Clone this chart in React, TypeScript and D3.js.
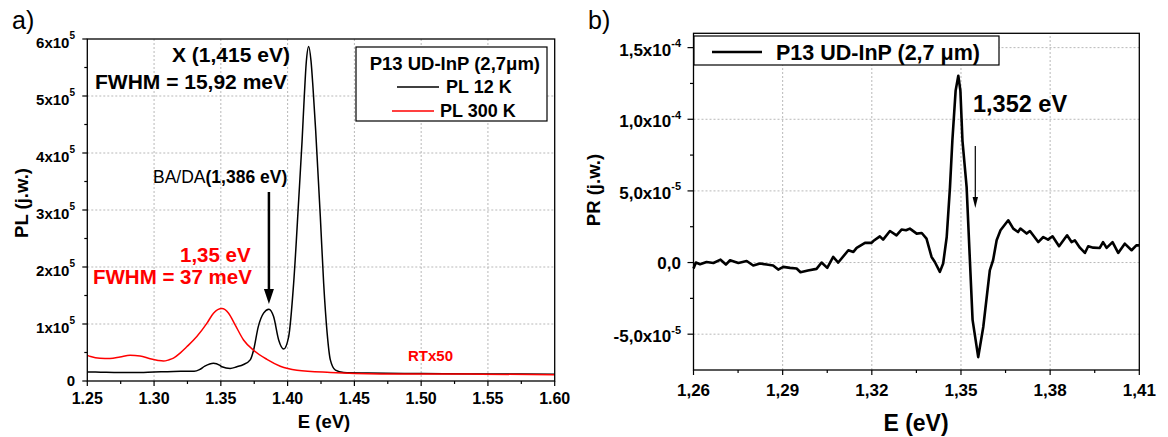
import React from 'react';
import * as d3 from 'd3';

const FONT = "'Liberation Sans', Arial, Helvetica, sans-serif";

// ---------- Panel a) PL spectra ----------
const pl12E = [1.25, 1.26, 1.27, 1.28, 1.29, 1.30, 1.31, 1.32, 1.33, 1.334, 1.338, 1.3445, 1.349, 1.3508, 1.357, 1.362, 1.367, 1.372, 1.3745, 1.378, 1.382, 1.386, 1.3895, 1.3933, 1.397, 1.4008, 1.4045, 1.4083, 1.4108, 1.4125, 1.414, 1.4158, 1.4175, 1.419, 1.421, 1.4225, 1.4245, 1.427, 1.4296, 1.432, 1.4358, 1.442, 1.46, 1.50, 1.55, 1.60];
const pl12V = [0.158, 0.155, 0.150, 0.148, 0.150, 0.160, 0.163, 0.170, 0.172, 0.20, 0.26, 0.31, 0.28, 0.25, 0.22, 0.25, 0.29, 0.37, 0.54, 0.95, 1.19, 1.26, 1.13, 0.72, 0.56, 0.78, 1.71, 3.18, 4.2, 5.0, 5.6, 5.87, 5.62, 5.15, 4.4, 3.75, 2.88, 1.71, 0.84, 0.37, 0.19, 0.15, 0.14, 0.13, 0.125, 0.12];
const pl300E = [1.25, 1.2525, 1.2595, 1.267, 1.2745, 1.282, 1.2895, 1.297, 1.303, 1.307, 1.311, 1.3145, 1.3195, 1.3245, 1.332, 1.3395, 1.3445, 1.3508, 1.3558, 1.3608, 1.367, 1.3745, 1.3845, 1.3945, 1.407, 1.432, 1.47, 1.545, 1.60];
const pl300V = [0.45, 0.43, 0.40, 0.395, 0.42, 0.45, 0.44, 0.39, 0.36, 0.35, 0.37, 0.40, 0.49, 0.60, 0.78, 1.01, 1.19, 1.27, 1.19, 0.98, 0.72, 0.54, 0.38, 0.26, 0.19, 0.15, 0.125, 0.12, 0.11];
const PL_UNIT = 1e5;
const aXTicks = [1.25, 1.30, 1.35, 1.40, 1.45, 1.50, 1.55, 1.60];
const aYTicks = [0, 1e5, 2e5, 3e5, 4e5, 5e5, 6e5];

// ---------- Panel b) PR spectrum ----------
const prE = [1.26, 1.2608, 1.2622, 1.2644, 1.2667, 1.2691, 1.2709, 1.2723, 1.2751, 1.2779, 1.2801, 1.2824, 1.2846, 1.2868, 1.2885, 1.2902, 1.2925, 1.2947, 1.296, 1.2985, 1.3014, 1.3031, 1.305, 1.307, 1.3087, 1.3121, 1.3138, 1.3149, 1.3177, 1.3199, 1.3205, 1.3227, 1.3238, 1.3261, 1.3283, 1.33, 1.3315, 1.3328, 1.3351, 1.3368, 1.3384, 1.3401, 1.3412, 1.3429, 1.344, 1.3452, 1.3463, 1.3471, 1.3482, 1.3491, 1.3498, 1.3505, 1.3519, 1.353, 1.3539, 1.3558, 1.3575, 1.3597, 1.3608, 1.362, 1.3633, 1.3659, 1.3676, 1.3692, 1.37, 1.3721, 1.3732, 1.376, 1.3777, 1.3793, 1.3808, 1.383, 1.3857, 1.3872, 1.3883, 1.39, 1.3917, 1.3928, 1.3945, 1.3967, 1.3978, 1.399, 1.401, 1.4029, 1.4051, 1.4074, 1.409, 1.41];
const prV = [-0.42, 0, -0.12, 0.04, -0.03, 0.2, -0.14, 0.16, -0.03, 0.11, -0.21, -0.07, -0.14, -0.21, -0.49, -0.3, -0.37, -0.42, -0.68, -0.55, -0.44, 0, -0.37, 0.39, 0, 0.86, 0.74, 1.02, 1.37, 1.37, 1.5, 1.83, 1.6, 2.2, 1.9, 2.3, 2.25, 2.37, 2.02, 2.06, 1.67, 0.39, 0.04, -0.65, -0.07, 1.78, 5.26, 8.5, 12.0, 13.04, 12.0, 8.5, 5.26, 0.16, -4.0, -6.6, -4.5, -0.54, 0.16, 1.55, 2.25, 2.95, 2.37, 2.13, 2.37, 2.02, 2.2, 1.43, 1.78, 1.6, 1.83, 1.14, 1.9, 1.43, 1.55, 1.04, 0.67, 1.14, 1.04, 1.02, 1.43, 1.02, 1.43, 0.67, 1.32, 0.86, 1.2, 1.2];
const PR_UNIT = 1e-5;
const bXTicks = [1.26, 1.29, 1.32, 1.35, 1.38, 1.41];
const bYTicks = [-5e-5, 0, 5e-5, 1e-4, 1.5e-4];

// ---------- scales ----------
const xA = d3.scaleLinear().domain([1.25, 1.6]).range([87.3, 554.7]);
const yA = d3.scaleLinear().domain([0, 6e5]).range([381, 39]);
const xB = d3.scaleLinear().domain([1.26, 1.41]).range([693.5, 1139.3]);
const yB = d3.scaleLinear().domain([-7.5e-5, 1.6e-4]).range([370, 33.3]);

const mid = (arr: number[]) => arr.slice(0, -1).map((v, i) => (v + arr[i + 1]) / 2);

function prLabel(v: number) {
  if (v === 0) return { main: '0,0', sup: '' };
  const exp = Math.floor(Math.log10(Math.abs(v)) + 1e-9);
  const m = v / Math.pow(10, exp);
  return { main: m.toFixed(1).replace('.', ',') + 'x10', sup: String(exp) };
}

export default function App() {
  const lineA = d3.line<[number, number]>().x(d => xA(d[0])).y(d => yA(d[1])).curve(d3.curveMonotoneX);
  const lineB = d3.line<[number, number]>().x(d => xB(d[0])).y(d => yB(d[1]));
  const pl12 = pl12E.map((e, i) => [e, pl12V[i] * PL_UNIT] as [number, number]);
  const pl300 = pl300E.map((e, i) => [e, pl300V[i] * PL_UNIT] as [number, number]);
  const pr = prE.map((e, i) => [e, prV[i] * PR_UNIT] as [number, number]);

  const grid = '#b8b8b8';
  const [ax0, ax1] = xA.range();
  const [ay0, ay1] = yA.range();
  const [bx0, bx1] = xB.range();
  const [by0, by1] = yB.range();

  return (
    <svg width={1168} height={437} style={{ position: 'absolute', left: 0, top: 0, background: '#fff' }} fontFamily={FONT}>
      <rect x={0} y={0} width={1168} height={437} fill="#fff" />
      {/* ============ Panel a ============ */}
      <text x={12} y={29} fontSize={25}>a)</text>
      {aXTicks.slice(1, -1).map(t => (
        <line key={'agx' + t} x1={xA(t)} x2={xA(t)} y1={ay0} y2={ay1} stroke={grid} strokeDasharray="2,2" strokeWidth={1} />
      ))}
      {aYTicks.slice(1, -1).map(t => (
        <line key={'agy' + t} x1={ax0} x2={ax1} y1={yA(t)} y2={yA(t)} stroke={grid} strokeDasharray="2,2" strokeWidth={1} />
      ))}
      <path d={lineA(pl12) || ''} fill="none" stroke="#000" strokeWidth={1.5} />
      <path d={lineA(pl300) || ''} fill="none" stroke="#ff0000" strokeWidth={1.5} />
      <rect x={ax0} y={ay1} width={ax1 - ax0} height={ay0 - ay1} fill="none" stroke="#000" strokeWidth={1.3} />
      {aXTicks.map(t => (
        <g key={'axt' + t}>
          <line x1={xA(t)} x2={xA(t)} y1={ay0} y2={ay0 + 5} stroke="#000" strokeWidth={1.2} />
          <text x={xA(t)} y={404} fontSize={16} fontWeight="bold" textAnchor="middle">{t.toFixed(2)}</text>
        </g>
      ))}
      {mid(aXTicks).map(t => (
        <line key={'axm' + t} x1={xA(t)} x2={xA(t)} y1={ay0} y2={ay0 + 3} stroke="#000" strokeWidth={1.2} />
      ))}
      {aYTicks.map(t => (
        <g key={'ayt' + t}>
          <line x1={ax0 - 5} x2={ax0} y1={yA(t)} y2={yA(t)} stroke="#000" strokeWidth={1.2} />
          {t === 0 ? (
            <text x={75} y={yA(t) + 5} fontSize={15} fontWeight="bold" textAnchor="end">0</text>
          ) : (
            <text x={75} y={yA(t) + 9} fontSize={15} fontWeight="bold" textAnchor="end">
              {`${t / PL_UNIT}x10`}
              <tspan dy={-9} fontSize={10}>5</tspan>
            </text>
          )}
        </g>
      ))}
      {mid(aYTicks).map(t => (
        <line key={'aym' + t} x1={ax0 - 3} x2={ax0} y1={yA(t)} y2={yA(t)} stroke="#000" strokeWidth={1.2} />
      ))}
      <text x={324} y={428} fontSize={18.5} fontWeight="bold" textAnchor="middle">E (eV)</text>
      <text transform="translate(28,203) rotate(-90)" fontSize={18.5} fontWeight="bold" textAnchor="middle">PL (j.w.)</text>
      {/* annotations */}
      <text x={172} y={62} fontSize={21} fontWeight="bold">X (1,415 eV)</text>
      <text x={95} y={89} fontSize={21} fontWeight="bold">FWHM = 15,92 meV</text>
      <text x={153} y={183} fontSize={17.5}>BA/DA<tspan fontWeight="bold">(1,386 eV)</tspan></text>
      <line x1={xA(1.386)} x2={xA(1.386)} y1={192} y2={292} stroke="#000" strokeWidth={2.5} />
      <path d={`M${xA(1.386) - 5},${289} L${xA(1.386) + 5},${289} L${xA(1.386)},${304} Z`} fill="#000" />
      <text x={180} y={262} fontSize={20.5} fontWeight="bold" fill="#ff0000">1,35 eV</text>
      <text x={93} y={284} fontSize={20.5} fontWeight="bold" fill="#ff0000">FWHM = 37 meV</text>
      <text x={408} y={361} fontSize={15} fontWeight="bold" fill="#ff0000">RTx50</text>
      {/* legend */}
      <rect x={356} y={47} width={191} height={74} fill="#fff" stroke="#000" strokeWidth={1.2} />
      <text x={540} y={70} fontSize={18.5} fontWeight="bold" textAnchor="end">P13 UD-InP (2,7μm)</text>
      <line x1={397} x2={439} y1={87} y2={87} stroke="#000" strokeWidth={1.3} />
      <text x={446} y={93} fontSize={18} fontWeight="bold">PL 12 K</text>
      <line x1={392} x2={434} y1={111} y2={111} stroke="#ff0000" strokeWidth={1.3} />
      <text x={440} y={117} fontSize={18} fontWeight="bold">PL 300 K</text>

      {/* ============ Panel b ============ */}
      <text x={588} y={29} fontSize={25}>b)</text>
      {bXTicks.slice(1, -1).map(t => (
        <line key={'bgx' + t} x1={xB(t)} x2={xB(t)} y1={by0} y2={by1} stroke={grid} strokeDasharray="2,2" strokeWidth={1} />
      ))}
      {bYTicks.map(t => (
        <line key={'bgy' + t} x1={bx0} x2={bx1} y1={yB(t)} y2={yB(t)} stroke={grid} strokeDasharray="2,2" strokeWidth={1} />
      ))}
      <path d={lineB(pr) || ''} fill="none" stroke="#000" strokeWidth={2.6} strokeLinejoin="round" />
      <rect x={bx0} y={by1} width={bx1 - bx0} height={by0 - by1} fill="none" stroke="#000" strokeWidth={1.3} />
      {bXTicks.map(t => (
        <g key={'bxt' + t}>
          <line x1={xB(t)} x2={xB(t)} y1={by0} y2={by0 + 5} stroke="#000" strokeWidth={1.2} />
          <text x={xB(t)} y={396} fontSize={17} fontWeight="bold" textAnchor="middle">{t.toFixed(2).replace('.', ',')}</text>
        </g>
      ))}
      {mid(bXTicks).map(t => (
        <line key={'bxm' + t} x1={xB(t)} x2={xB(t)} y1={by0} y2={by0 + 3} stroke="#000" strokeWidth={1.2} />
      ))}
      {bYTicks.map(t => {
        const l = prLabel(t);
        return (
          <g key={'byt' + t}>
            <line x1={bx0 - 6} x2={bx0} y1={yB(t)} y2={yB(t)} stroke="#000" strokeWidth={1.2} />
            {l.sup === '' ? (
              <text x={681} y={yB(t) + 6} fontSize={17} fontWeight="bold" textAnchor="end">{l.main}</text>
            ) : (
              <text x={681} y={yB(t) + 8} fontSize={17} fontWeight="bold" textAnchor="end">
                {l.main}
                <tspan dy={-8.5} fontSize={11}>{l.sup}</tspan>
              </text>
            )}
          </g>
        );
      })}
      {[-2.5e-5, 2.5e-5, 7.5e-5, 1.25e-4].map(t => (
        <line key={'bym' + t} x1={bx0 - 3.5} x2={bx0} y1={yB(t)} y2={yB(t)} stroke="#000" strokeWidth={1.2} />
      ))}
      <text x={916} y={431} fontSize={23} fontWeight="bold" textAnchor="middle">E (eV)</text>
      <text transform="translate(600,190) rotate(-90)" fontSize={18.5} fontWeight="bold" textAnchor="middle">PR (j.w.)</text>
      {/* legend */}
      <rect x={694} y={36} width={305} height={29} fill="#fff" stroke="#000" strokeWidth={1.2} />
      <line x1={712} x2={762} y1={52} y2={52} stroke="#000" strokeWidth={2.6} />
      <text x={776} y={59.5} fontSize={21.5} fontWeight="bold">P13 UD-InP (2,7 μm)</text>
      {/* annotation */}
      <text x={973} y={112} fontSize={23.5} fontWeight="bold">1,352 eV</text>
      <line x1={975.3} x2={975.3} y1={146} y2={199} stroke="#000" strokeWidth={1.2} />
      <path d="M972.6,197 L978,197 L975.3,208 Z" fill="#000" />
    </svg>
  );
}
